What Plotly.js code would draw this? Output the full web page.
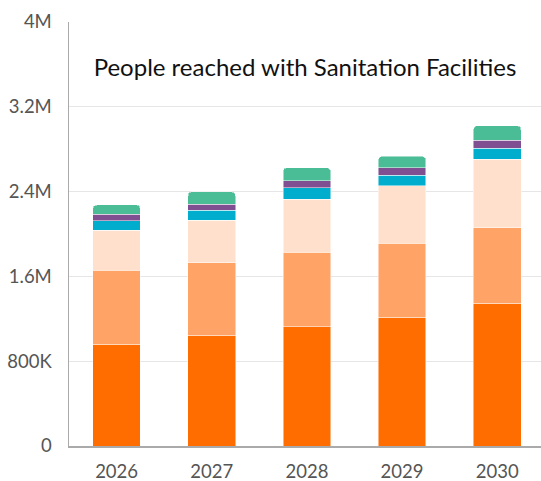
<!DOCTYPE html>
<html>
<head>
<meta charset="utf-8">
<script src="https://cdn.plot.ly/plotly-3.0.1.min.js"></script>
<style>html,body{margin:0;padding:0;background:#fff;}#chart{width:541px;height:481px;}</style>
</head>
<body>
<div id="chart"></div>
<script>
const years = ['2026', '2027', '2028', '2029', '2030'];
const series1 = [962000, 1047000, 1126000, 1214000, 1349000];
const series2 = [698000, 683000, 701000, 698000, 708000];
const series3 = [375000, 399000, 503000, 544000, 648000];
const series4 = [88000, 97000, 107000, 97000, 106000];
const series5 = [63000, 57000, 66000, 73000, 73000];
const series6 = [88000, 116000, 123000, 107000, 138000];
const seriesNames = ['Series 1', 'Series 2', 'Series 3', 'Series 4', 'Series 5', 'Series 6'];
const seriesColors = ['#FF6D00', '#FFA466', '#FFE0CC', '#00ADCC', '#7F4F91', '#4ABC96'];
const yTickVals = [0, 800000, 1600000, 2400000, 3200000, 4000000];
const yTickText = ['0', '800K', '1.6M', '2.4M', '3.2M', '4M'];
const titleText = 'People reached with Sanitation Facilities';

const allSeries = [series1, series2, series3, series4, series5, series6];
const traces = allSeries.map((vals, i) => ({
  type: 'bar',
  x: years,
  y: vals,
  name: seriesNames[i],
  marker: {color: seriesColors[i], line: {color: 'rgba(255,255,255,0.6)', width: 0.8}},
  hoverinfo: 'x+y+name'
}));

const layout = {
  width: 541, height: 481,
  margin: {l: 69, r: 0, t: 22, b: 35},
  barmode: 'stack',
  bargap: 0.5,
  barcornerradius: 4,
  showlegend: false,
  paper_bgcolor: '#fff', plot_bgcolor: '#fff',
  font: {family: 'Lato, sans-serif', color: '#555', size: 18},
  title: {
    text: titleText,
    font: {family: 'Lato, sans-serif', size: 24, color: '#111'},
    xref: 'paper', x: 0.5, xanchor: 'center',
    yref: 'paper', y: 0.893, yanchor: 'middle'
  },
  xaxis: {
    type: 'category',
    range: [-0.5, 4.46],
    showgrid: false,
    showline: true, linecolor: '#aaa', linewidth: 1.5,
    ticks: 'outside', ticklen: 8, tickcolor: 'rgba(0,0,0,0)',
    tickfont: {size: 18.5, color: '#555'},
    fixedrange: true
  },
  yaxis: {
    range: [0, 4000000],
    tickvals: yTickVals, ticktext: yTickText,
    showgrid: true, gridcolor: '#e6e6e6', gridwidth: 1,
    zeroline: false,
    showline: true, linecolor: '#aaa', linewidth: 1.5,
    ticks: 'outside', ticklen: 12, tickcolor: 'rgba(0,0,0,0)',
    tickfont: {size: 18.5, color: '#555'},
    fixedrange: true
  }
};

Plotly.newPlot('chart', traces, layout, {displayModeBar: false, staticPlot: true});
</script>
</body>
</html>
